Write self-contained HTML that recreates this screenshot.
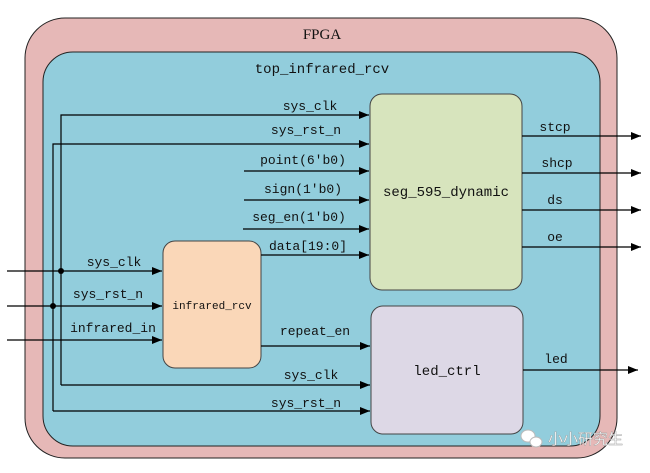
<!DOCTYPE html>
<html><head><meta charset="utf-8"><style>
html,body{margin:0;padding:0;background:#fff;}
svg text{font-family:"Liberation Mono","Noto Serif CJK SC",monospace;font-size:13px;fill:#111;}
</style></head><body>
<svg width="650" height="468" viewBox="0 0 650 468" xmlns="http://www.w3.org/2000/svg">
<defs><marker id="a" markerWidth="10" markerHeight="8" refX="10" refY="4" orient="auto" markerUnits="userSpaceOnUse"><path d="M0,0 L10,4 L0,8 z" fill="#000"/></marker></defs>
<rect x="25" y="18" width="592" height="440" rx="40" fill="#e6b8b7" stroke="#222" stroke-width="1"/>
<rect x="43" y="52" width="557" height="394" rx="30" fill="#92cddc" stroke="#222" stroke-width="1"/>
<text x="322" y="39" text-anchor="middle" style="font-family:'Liberation Serif',serif;font-size:15px">FPGA</text>
<text x="322" y="73" text-anchor="middle" style="font-size:14px">top_infrared_rcv</text>
<rect x="370" y="94" width="152" height="196" rx="12" fill="#d7e4bd" stroke="#444"/>
<rect x="371" y="306" width="152" height="128" rx="12" fill="#ddd8e6" stroke="#444"/>
<rect x="163" y="241" width="98" height="127" rx="12" fill="#fad7b8" stroke="#444"/>
<text x="446" y="196" text-anchor="middle" style="font-size:14px">seg_595_dynamic</text>
<text x="447" y="375" text-anchor="middle" style="font-size:14px">led_ctrl</text>
<text x="212" y="309" text-anchor="middle" style="font-size:11px">infrared_rcv</text>
<g stroke="#000" stroke-width="1.2" fill="none">
<path d="M61,385 V115 H369" marker-end="url(#a)"/>
<path d="M53,411 V144 H369" marker-end="url(#a)"/>
<path d="M244,171 H369" marker-end="url(#a)"/>
<path d="M244,200 H369" marker-end="url(#a)"/>
<path d="M243,229 H369" marker-end="url(#a)"/>
<path d="M261,255 H369" marker-end="url(#a)"/>
<path d="M7,271 H162" marker-end="url(#a)"/>
<path d="M7,306 H162" marker-end="url(#a)"/>
<path d="M7,340 H162" marker-end="url(#a)"/>
<path d="M261,346 H370" marker-end="url(#a)"/>
<path d="M61,385 H370" marker-end="url(#a)"/>
<path d="M53,411 H370" marker-end="url(#a)"/>
<path d="M522,136 H641" marker-end="url(#a)"/>
<path d="M522,173 H641" marker-end="url(#a)"/>
<path d="M522,210 H641" marker-end="url(#a)"/>
<path d="M522,247 H641" marker-end="url(#a)"/>
<path d="M523,370 H638" marker-end="url(#a)"/>
</g>
<circle cx="61" cy="271" r="3" fill="#000"/>
<circle cx="53" cy="306" r="3" fill="#000"/>
<text x="310" y="110" text-anchor="middle">sys_clk</text>
<text x="306" y="134" text-anchor="middle">sys_rst_n</text>
<text x="303" y="164" text-anchor="middle">point(6'b0)</text>
<text x="303" y="193" text-anchor="middle">sign(1'b0)</text>
<text x="299" y="221" text-anchor="middle">seg_en(1'b0)</text>
<text x="308" y="250" text-anchor="middle">data[19:0]</text>
<text x="114" y="266" text-anchor="middle">sys_clk</text>
<text x="108" y="298" text-anchor="middle">sys_rst_n</text>
<text x="113" y="332" text-anchor="middle">infrared_in</text>
<text x="315" y="335" text-anchor="middle">repeat_en</text>
<text x="311" y="379" text-anchor="middle">sys_clk</text>
<text x="306" y="407" text-anchor="middle">sys_rst_n</text>
<text x="555" y="131" text-anchor="middle">stcp</text>
<text x="557" y="167" text-anchor="middle">shcp</text>
<text x="555" y="204" text-anchor="middle">ds</text>
<text x="555" y="241" text-anchor="middle">oe</text>
<text x="556" y="363" text-anchor="middle">led</text>
<g fill="#fff" stroke="#bbb"><ellipse cx="528" cy="436" rx="7" ry="6"/><ellipse cx="536" cy="442" rx="6" ry="5"/></g>
<text x="548" y="444" style="font-family:'Noto Sans CJK SC',sans-serif;font-size:15px;fill:#fff;stroke:#999;stroke-width:0.4">小小研究生</text>
</svg>
</body></html>
